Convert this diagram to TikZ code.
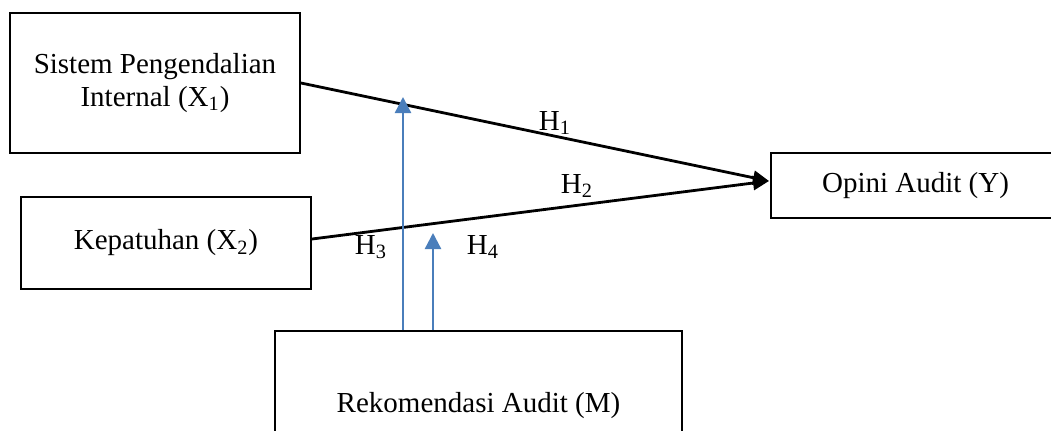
\documentclass[tikz,border=0pt]{standalone}
\usepackage{fontspec}
\setmainfont{Liberation Serif}
\usetikzlibrary{arrows.meta}
\definecolor{modblue}{RGB}{74,126,187}

\begin{document}
\begin{tikzpicture}[x=0.5pt, y=-0.5pt,
    every node/.style={font=\fontsize{14.5}{16.5}\selectfont},
    varbox/.style={draw, line width=1pt, align=center, inner sep=0pt},
    effect/.style={line width=1.4pt, -{Triangle[length=8pt,width=7pt]}},
    modarrow/.style={draw=modblue, line width=1.2pt, -{Triangle[length=8pt,width=8pt,fill=modblue]}}]
  \useasboundingbox (0,0) rectangle (1051,430);
  \node[varbox, minimum width=145pt, minimum height=70pt] (x1) at (155,83) {Sistem Pengendalian\\Internal (X\textsubscript{1})};
  \node[varbox, minimum width=145pt, minimum height=46pt] (x2) at (166,243) {Kepatuhan (X\textsubscript{2})};
  \node[varbox, minimum width=144.5pt, minimum height=32.5pt] (y) at (915.5,185.5) {Opini Audit (Y)};
  \node[varbox, minimum width=203.5pt, minimum height=75pt] (m) at (478.5,406) {Rekomendasi Audit (M)};
  \coordinate (tip) at (769,181);
  \coordinate (mod1) at (403,97);
  \coordinate (mod2) at (433,233);
  \draw[effect] (x1.east) -- (tip);
  \draw[effect] ([yshift=2pt]x2.east) -- (tip);
  \draw[modarrow] (m.north -| mod1) -- (mod1);
  \draw[modarrow] (m.north -| mod2) -- (mod2);
  \node (h1) at (555,123) {H\textsubscript{1}};
  \node (h2) at (577,186) {H\textsubscript{2}};
  \node (h3) at (371,247) {H\textsubscript{3}};
  \node (h4) at (483,247) {H\textsubscript{4}};
\end{tikzpicture}
\end{document}
